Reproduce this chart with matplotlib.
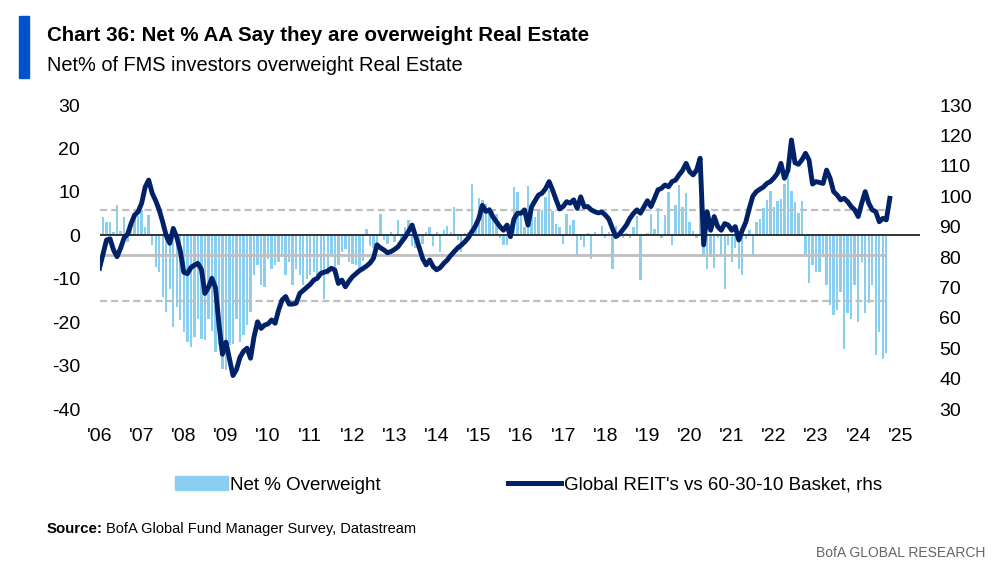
import numpy as np
import matplotlib
matplotlib.use('Agg')
from matplotlib import pyplot as plt
from matplotlib.patches import Rectangle, Patch
from matplotlib.lines import Line2D

plt.rcParams['font.family'] = ['Liberation Sans', 'DejaVu Sans']
plt.rcParams['axes.unicode_minus'] = False

# Net % of FMS investors overweight Real Estate, monthly from Jan 2006
net_ow = [
    0.5, 4.1, 3.1, 3.1, 0.8, 6.9, 1.0, 4.1, -1.5, 2.5, 3.8, 4.5,               # 2006
    5.8, 1.9, 4.6, -2.3, -7.3, -8.4, -14.2, -17.6, -12.3, -21.1, -16.5, -19.5,  # 2007
    -22.3, -24.6, -25.7, -23.4, -19.2, -23.8, -24.2, -19.2, -22.0, -26.9, -25.3, -30.7,
    -31.1, -25.3, -25.0, -19.2, -24.6, -23.0, -20.7, -17.7, -9.2, -6.9, -11.5, -11.9,
    -5.4, -7.7, -6.9, -6.1, -5.0, -9.2, -6.1, -11.5, -7.7, -9.2, -11.5, -10.0,
    -9.2, -8.4, -10.0, -8.4, -14.6, -9.2, -4.6, -8.4, -6.9, -3.8, -3.1, -6.1,
    -6.5, -6.9, -7.5, -6.0, 1.5, -2.5, -3.0, -2.0, 5.0, -1.0, -2.0, 0.8,        # 2012
    -1.5, 3.5, -2.0, 1.9, 3.5, -2.5, -3.0, -3.5, -2.0, 0.8, 1.9, -2.5,
    0.8, -3.8, 1.2, 2.2, 0.8, 6.5, -1.0, -3.8, 0.5, 0.8, 11.9, 3.0,
    8.6, 8.1, 7.3, 6.5, 5.7, 5.0, -0.7, -2.3, -2.2, 2.5, 11.1, 10.0,            # 2015
    5.0, 2.0, 11.4, 6.9, 4.3, 5.8, 5.8, 8.8, 10.4, 5.5, 2.7, 1.9,
    -1.9, 5.0, 2.3, 3.6, -5.0, -1.0, -2.6, 0.5, -5.4, 0.8, 0.3, 2.2,
    -0.7, 0.8, -7.7, 2.2, 0.5, -0.7, 0.5, -0.7, 1.9, 4.4, -10.2, 0.3,          # 2018
    0.5, 5.0, 1.5, 6.2, -0.7, 4.6, 10.0, -2.3, 7.0, 11.5, 6.5, 9.7,
    3.1, 1.0, -0.7, 8.1, -5.0, -7.7, -5.0, -7.6, -0.7, -4.3, -12.3, -2.3,
    -6.1, -3.0, -7.7, -9.2, -0.8, 1.2, -5.0, 3.1, 3.8, 6.2, 8.1, 10.1,         # 2021
    6.5, 7.8, 8.4, 11.9, 16.1, 10.3, 7.7, 5.2, 7.8, -4.2, -11.1, -6.9,
    -8.4, -8.4, -5.0, -11.5, -16.1, -18.4, -17.3, -13.1, -26.1, -18.0, -19.2, -11.5,
    -20.0, -6.1, -18.0, -15.7, -11.5, -27.6, -22.2, -28.4, -27.2,              # 2024
]

# Global REITs vs 60-30-10 basket (rhs), monthly from Jan 2006
reit_rel = [
    76.3, 81.0, 85.6, 86.0, 82.3, 80.1, 82.9, 86.3, 87.5, 91.0, 93.8, 94.9,
    97.7, 103.0, 105.3, 101.0, 98.5, 95.5, 91.5, 87.0, 84.5, 89.4, 86.5, 82.0,
    75.0, 74.5, 76.5, 77.3, 77.9, 76.0, 68.0, 70.0, 73.0, 70.0, 58.0, 48.0,
    52.0, 46.5, 41.0, 43.0, 47.0, 49.0, 50.0, 46.7, 53.8, 58.7, 56.5, 57.6,
    58.0, 59.3, 58.2, 62.6, 65.9, 67.0, 64.5, 64.5, 64.8, 68.0, 69.0, 70.0,
    71.0, 72.4, 73.0, 74.6, 75.0, 75.4, 76.3, 75.7, 71.3, 72.4, 70.2, 72.0,
    73.5, 74.5, 75.5, 76.2, 77.0, 78.0, 79.6, 84.0, 83.0, 82.3, 81.4, 81.8,
    82.5, 83.4, 85.0, 86.5, 88.5, 90.5, 86.7, 83.2, 79.5, 77.4, 79.0, 76.8,
    75.8, 76.5, 77.9, 79.0, 80.5, 81.8, 83.0, 83.9, 85.0, 86.3, 88.3, 90.1,
    92.7, 97.0, 95.0, 95.5, 93.2, 91.6, 90.0, 88.8, 90.5, 86.7, 92.5, 94.4,
    94.4, 95.5, 90.5, 96.5, 98.5, 100.4, 101.0, 102.5, 104.8, 102.0, 98.8, 95.8,
    96.6, 98.2, 97.7, 98.8, 96.0, 99.8, 96.5, 96.6, 95.5, 94.9, 94.5, 94.8,
    93.8, 92.5, 89.5, 86.7, 87.5, 89.0, 90.5, 92.7, 94.3, 95.5, 94.4, 96.5,
    98.5, 96.6, 99.3, 102.1, 102.6, 103.7, 103.1, 104.8, 105.3, 107.0, 108.5, 110.8,
    108.1, 107.0, 108.6, 112.5, 84.0, 94.9, 88.8, 93.3, 90.0, 88.8, 91.0, 90.5,
    88.8, 90.0, 85.6, 88.8, 91.5, 96.0, 100.0, 101.5, 102.3, 103.0, 104.2, 104.8,
    106.0, 107.5, 110.8, 105.9, 108.5, 118.5, 111.0, 110.5, 112.0, 114.1, 111.9, 104.0,
    104.8, 104.5, 104.2, 108.6, 105.9, 101.5, 100.4, 98.8, 99.3, 98.2, 96.6, 95.5,
    93.3, 97.7, 101.5, 97.7, 95.5, 94.9, 91.6, 92.7, 92.2, 99.3,
]

avg_level = -4.6
upper_band = 5.9
lower_band = -15.1

years = list(range(2006, 2026))
year_labels = ["'" + str(y)[2:] for y in years]

bar_dates = 2006 + np.arange(len(net_ow)) / 12
line_dates = 2006 + np.arange(len(reit_rel)) / 12

W, H = 1005, 566
fig = plt.figure(figsize=(W / 100, H / 100), dpi=100)
ax = fig.add_axes([99.5 / W, 1 - 409 / H, (920 - 99.5) / W, (409 - 105) / H])
ax2 = ax.twinx()

bar_col = '#89CFF0'
line_col = '#012169'
grey = '#BFBFBF'

ax.bar(bar_dates, net_ow, width=0.68 / 12, color=bar_col, zorder=2)
ax.axhline(0, color='#333333', lw=1.4, zorder=4)
ax.hlines(avg_level, bar_dates[0], bar_dates[-1], color=grey, lw=2.0, zorder=3)
ax.hlines([upper_band, lower_band], bar_dates[0], bar_dates[-1], color=grey, lw=1.6,
          linestyles=[(0, (3.2, 1.8))], zorder=3)
ax2.plot(line_dates, reit_rel, color=line_col, lw=3.5, solid_joinstyle='round', zorder=5)

ax.set_xlim(2006, 2006 + (920 - 99.5) / 42.15)
ax.set_ylim(-40, 30)
ax2.set_ylim(30, 130)
ax.set_yticks(range(-40, 31, 10))
ax2.set_yticks(range(30, 131, 10))
ax.set_xticks(years)
ax.set_xticklabels(year_labels)

for a in (ax, ax2):
    for s in a.spines.values():
        s.set_visible(False)
    a.tick_params(length=0, labelsize=14, colors='#000000')
ax.tick_params(axis='y', pad=14)
ax.tick_params(axis='x', pad=14)
ax2.tick_params(axis='y', pad=14)

# header
fig.add_artist(Rectangle((19 / W, 1 - 78 / H), 10 / W, 62 / H, color='#0052CC',
                         transform=fig.transFigure))
fig.text(47 / W, 1 - 41 / H, 'Chart 36: Net % AA Say they are overweight Real Estate',
         fontsize=14.8, fontweight='bold', va='baseline', ha='left')
fig.text(47 / W, 1 - 71 / H, 'Net% of FMS investors overweight Real Estate',
         fontsize=14.4, va='baseline', ha='left')

handles = [Patch(color=bar_col), Line2D([], [], color=line_col, lw=3.6)]
labels = ['Net % Overweight', "Global REIT's vs 60-30-10 Basket, rhs"]
fig.legend(handles, labels, loc='center left', bbox_to_anchor=(175 / W, 1 - 485 / H),
           ncol=2, frameon=False, fontsize=13.5, handlelength=2.8, handletextpad=0.15,
           columnspacing=6.8, borderpad=0, borderaxespad=0)

src = fig.text(47 / W, 1 - 533 / H, 'Source:', fontsize=10.8, fontweight='bold',
               va='baseline', ha='left')
fig.canvas.draw()
bb = src.get_window_extent()
fig.text((bb.x1 + 3) / W, 1 - 533 / H, 'BofA Global Fund Manager Survey, Datastream',
         fontsize=10.5, va='baseline', ha='left')
fig.text(985 / W, 1 - 557 / H, 'BofA GLOBAL RESEARCH', fontsize=10, color='#666666',
         va='baseline', ha='right')

fig.savefig('out.png', dpi=100)
